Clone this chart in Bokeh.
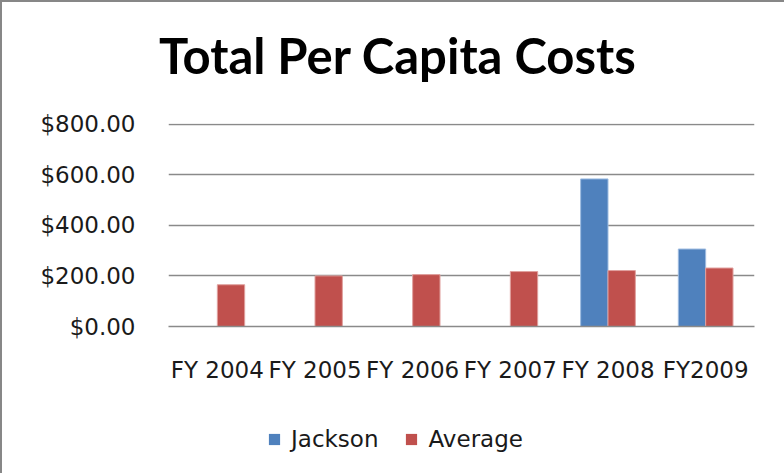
from bokeh.plotting import figure
from bokeh.layouts import column
from bokeh.models import ColumnDataSource, NumeralTickFormatter, FixedTicker, Legend, LegendItem, Div
from bokeh.transform import dodge
from bokeh.embed import file_html
from bokeh.resources import INLINE
import math

chart_title = "Total Per Capita Costs"
categories = ["FY 2004", "FY 2005", "FY 2006", "FY 2007", "FY 2008", "FY2009"]
jackson = [math.nan, math.nan, math.nan, math.nan, 583, 306]
average = [165, 200, 205, 217, 221, 231]
y_ticks = [0, 200, 400, 600, 800]
series_names = ["Jackson", "Average"]
series_colors = ["#4F81BD", "#C0504D"]
edge_colors = ["#9dbbe0", "#e0a09e"]

source = ColumnDataSource(data=dict(cat=categories, jackson=jackson, average=average))

# title strip
title_div = Div(
    text=('<div style="position:absolute; left:152px; top:24px; white-space:nowrap; '
          'font-family:Lato; font-weight:bold; font-size:49px; line-height:49px; color:black;">'
          + chart_title + '</div>'),
    width=774, height=80)

p = figure(x_range=categories, y_range=(0, 802), width=774, height=310,
           output_backend="svg", toolbar_location=None,
           min_border_left=166, min_border_right=22, min_border_top=31, min_border_bottom=76)

p.outline_line_color = None
p.background_fill_color = "white"
p.border_fill_color = "white"

p.vbar(x=dodge("cat", -0.14, range=p.x_range), top="jackson", width=0.28, source=source,
       fill_color=series_colors[0], line_color=edge_colors[0], line_width=1)
p.vbar(x=dodge("cat", 0.14, range=p.x_range), top="average", width=0.28, source=source,
       fill_color=series_colors[1], line_color=edge_colors[1], line_width=1)

p.ygrid.ticker = FixedTicker(ticks=y_ticks)
p.ygrid.grid_line_color = "#8a8a8a"
p.ygrid.grid_line_width = 1.5
p.xgrid.grid_line_color = None

p.yaxis.ticker = FixedTicker(ticks=y_ticks)
p.yaxis.formatter = NumeralTickFormatter(format="$0,0.00")
p.yaxis.axis_line_color = None
p.yaxis.major_tick_line_color = None
p.yaxis.minor_tick_line_color = None
p.yaxis.major_tick_out = 0
p.yaxis.major_tick_in = 0
p.yaxis.major_label_standoff = 33
p.yaxis.major_label_text_font = "DejaVu Sans"
p.yaxis.major_label_text_font_size = "23px"
p.yaxis.major_label_text_color = "#1a1a1a"

p.xaxis.axis_line_color = "#8a8a8a"
p.xaxis.axis_line_width = 1.5
p.xaxis.major_tick_line_color = None
p.xaxis.major_tick_out = 0
p.xaxis.major_tick_in = 0
p.xaxis.major_label_standoff = 30
p.xaxis.major_label_text_font = "DejaVu Sans"
p.xaxis.major_label_text_font_size = "23px"
p.xaxis.major_label_text_color = "#1a1a1a"

# legend strip (swatch renderers sit outside the visible range)
lf = figure(width=774, height=73, x_range=(0, 1), y_range=(0, 1),
            output_backend="svg", toolbar_location=None,
            min_border_left=0, min_border_right=0, min_border_top=0, min_border_bottom=0)
lf.axis.visible = False
lf.grid.visible = False
lf.outline_line_color = None
lf.background_fill_color = "white"
lf.border_fill_color = "white"
items = []
for name, col in zip(series_names, series_colors):
    r = lf.vbar(x=[-5], top=[0], width=0.1, fill_color=col, line_color=None)
    items.append(LegendItem(label=name, renderers=[r]))
legend = Legend(items=items, orientation="horizontal", location=(99, 23),
                glyph_width=14, glyph_height=14, label_standoff=10, spacing=26,
                padding=0, margin=0, border_line_color=None, background_fill_alpha=0,
                label_text_font="DejaVu Sans", label_text_font_size="23px",
                label_text_color="#1a1a1a")
lf.add_layout(legend, "center")

layout = column(title_div, p, lf, spacing=0)
layout.styles = {"border-top": "2px solid #878787", "border-left": "2px solid #878787",
                 "background-color": "white"}

open("out.html", "w").write(file_html(layout, INLINE))
